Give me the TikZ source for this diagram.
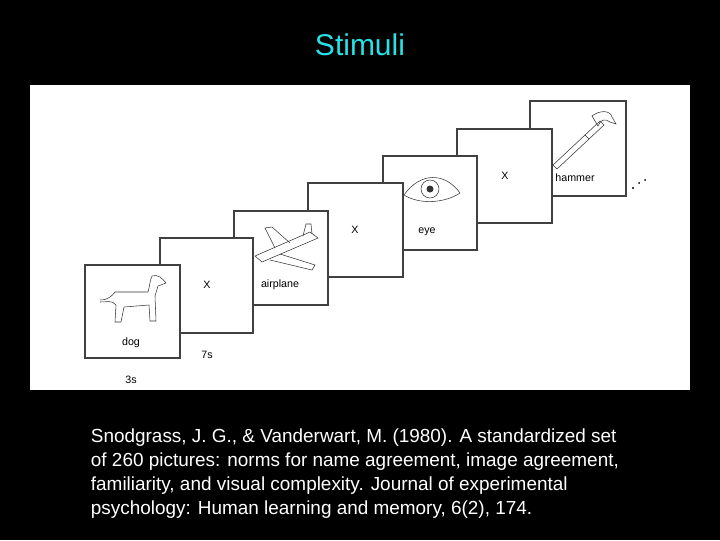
\documentclass[tikz,border=0pt]{standalone}
\usepackage{fontspec}
\setmainfont{Liberation Sans}
\tikzset{every picture/.style={line width=0.75pt}}
\tikzset{card/.style={draw=black!75,fill=white,line width=0.9pt},
  cardlabel/.style={inner sep=0.75pt,font=\fontsize{8}{9}\selectfont},
  sketch/.style={line width=0.4pt,black!80}}
\begin{document}
\begin{tikzpicture}[x=0.75pt,y=0.75pt,yscale=-1,xscale=1]
%Shape: background
\fill [black] (0,0) rectangle (720,540);
\useasboundingbox (0,0) rectangle (720,540);
% Title
\node (title) at (360,45) [text={rgb,255:red,40;green,225;blue,230},font=\fontsize{22.5}{26}\selectfont] {Stimuli};
%Shape: white panel
\fill [white] (30,85) rectangle (690,390);
% cards, last one behind
\draw [card] (530,101) rectangle (626,196);
\draw [card] (457,129) rectangle (552,223);
\draw [card] (383,156) rectangle (477,250);
\draw [card] (308,183) rectangle (403,277);
\draw [card] (234,211) rectangle (328,305);
\draw [card] (160,238) rectangle (253,333);
\draw [card] (85,265) rectangle (180,358);
% hammer
\draw [sketch] (553,165) -- (585,135) -- (589,139) -- (557,169) -- cycle;
\draw [sketch] (585,135) -- (600,121) -- (604,125) -- (589,139);
\draw [sketch] (592,116) .. controls (600,110) and (610,110) .. (612,117) -- (616,124) -- (610,122) .. controls (605,118) and (600,120) .. (598,126) -- cycle;
\node (hammerlbl) at (575,178) [cardlabel] {hammer};
\node (x3) at (505,176) [cardlabel] {X};
% eye
\draw [sketch] (404,195) .. controls (420,172) and (445,172) .. (460,193) .. controls (445,203) and (420,205) .. (404,195);
\draw [sketch] (430,189) circle (9);
\fill [black!80] (430,189) circle (3.5);
\node (eyelbl) at (427,232) [cardlabel] {eye};
\node (x2) at (355,230) [cardlabel] {X};
% airplane
\draw [sketch] (255,256) -- (310,232) -- (318,238) -- (262,262) -- cycle;
\draw [sketch] (275,248) -- (265,228) -- (272,227) -- (290,243);
\draw [sketch] (280,254) -- (315,265) -- (312,270) -- (270,260);
\draw [sketch] (303,236) -- (306,224) -- (311,224) -- (312,234);
\node (planelbl) at (280,285) [cardlabel] {airplane};
\node (x1) at (207,285) [cardlabel] {X};
% dog
\draw [sketch] (100,300) .. controls (108,300) and (112,296) .. (115,292) -- (148,292) .. controls (150,285) and (150,280) .. (152,276) .. controls (158,274) and (162,278) .. (166,283) -- (158,286) -- (155,296) -- (156,321) -- (150,321) -- (149,305) -- (124,307) -- (121,322) -- (115,322) -- (116,305) .. controls (112,300) and (108,302) .. (100,302);
\node (doglbl) at (131,343) [cardlabel] {dog};
% times and dots
\node (t7) at (207,355) [cardlabel] {7s};
\node (t3) at (131,380) [cardlabel] {3s};
\fill [black] (633,188) circle (1.2) (639,183) circle (1) (645,180) circle (1);
% reference
\node (cite) at (86,474) [anchor=west,white,align=left,font=\fontsize{14.2}{18}\selectfont] {Snodgrass, J. G., \& Vanderwart, M. (1980). A standardized set\\of 260 pictures: norms for name agreement, image agreement,\\familiarity, and visual complexity. Journal of experimental\\psychology: Human learning and memory, 6(2), 174.};
\end{tikzpicture}
\end{document}
